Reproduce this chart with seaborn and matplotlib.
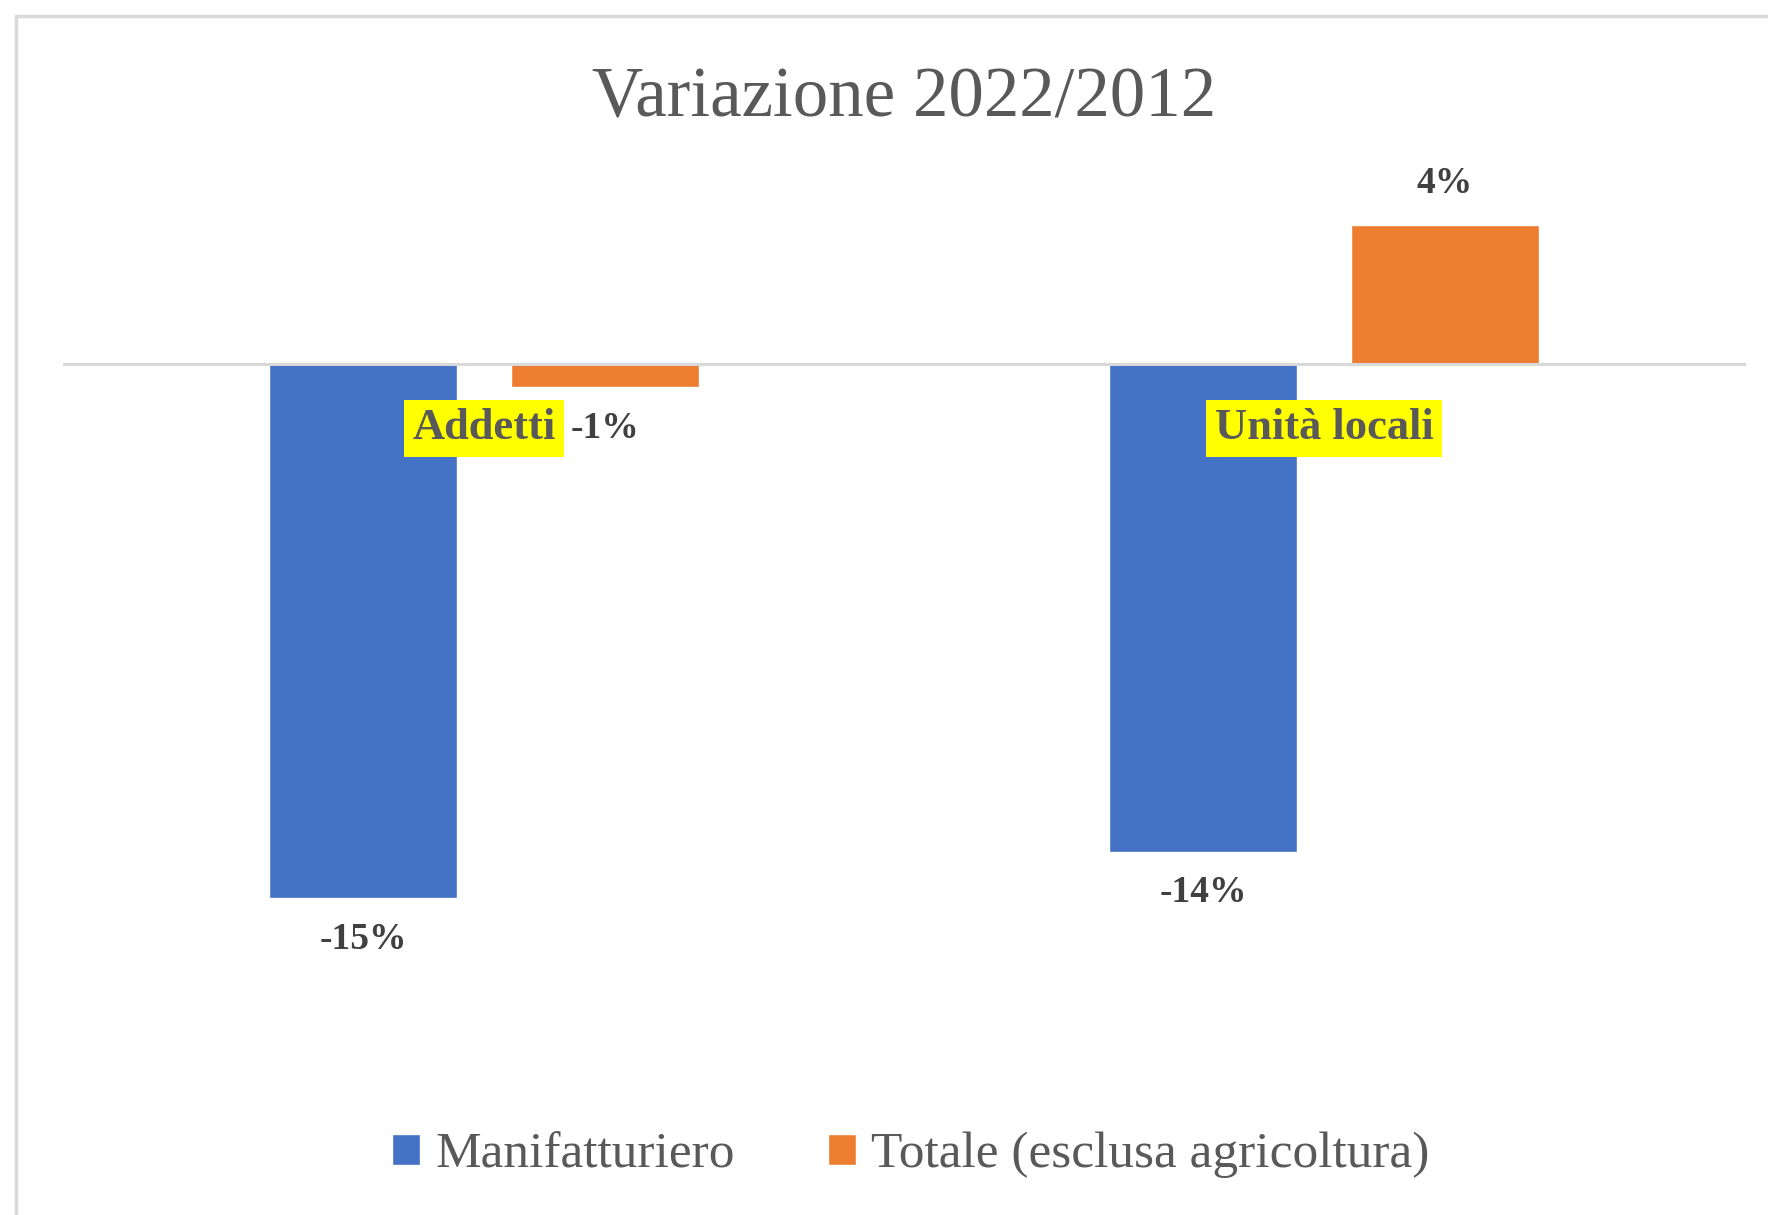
import pandas as pd
import seaborn as sns
import matplotlib.pyplot as plt
from matplotlib.patches import Rectangle

categorie = ['Addetti', 'Unità locali']
serie = ['Manifatturiero', 'Totale (esclusa agricoltura)']
manifatturiero = [-0.150, -0.137]
totale = [-0.0065, 0.039]
colori = ['#4472C4', '#ED7D31']

df = pd.DataFrame({
    'categoria': categorie * 2,
    'serie': [serie[0]] * 2 + [serie[1]] * 2,
    'variazione': manifatturiero + totale,
})

sns.set_style('white')
plt.rcParams['font.family'] = ['Liberation Serif', 'DejaVu Serif']

fig = plt.figure(figsize=(17.68, 12.15), dpi=100)
ax = fig.add_axes([64 / 1768, 1 - 1030 / 1215, 1680 / 1768, 855 / 1215])

sns.barplot(data=df, x='categoria', y='variazione', hue='serie',
            palette=colori, width=0.576, gap=0.22, saturation=1,
            errorbar=None, ax=ax)

ax.set_axisbelow(False)
ax.set_xlim(-0.5, 1.5)
ax.set_ylim(-0.187, 0.053)
ax.set_xlabel('')
ax.set_ylabel('')
ax.set_yticks([])
for s in ['top', 'right', 'left']:
    ax.spines[s].set_visible(False)
ax.spines['bottom'].set_position(('data', 0))
ax.spines['bottom'].set_color('#D9D9D9')
ax.spines['bottom'].set_linewidth(2.2)
ax.tick_params(axis='x', length=0, pad=32, labelsize=32, labelcolor='#595959')
for lbl in ax.get_xticklabels():
    lbl.set_fontweight('bold')
    lbl.set_bbox(dict(facecolor='#FFFF00', edgecolor='none', pad=6))

# etichette dei valori
for cont in ax.containers:
    ax.bar_label(cont, labels=[f'{v:.0%}' for v in cont.datavalues],
                 padding=17, fontsize=27, fontweight='bold', color='#404040')

fig.text(904 / 1768, 1 - 99 / 1215, 'Variazione 2022/2012',
         ha='center', va='center', fontsize=51, color='#595959')

handles, labels = ax.get_legend_handles_labels()
ax.legend_.remove()
fig.legend(handles, labels, loc='center', ncol=2,
           bbox_to_anchor=(911 / 1768, 1 - 1155 / 1215), frameon=False,
           fontsize=37, labelcolor='#595959', handlelength=0.55,
           handleheight=0.55, handletextpad=0.3, columnspacing=1.8)

# bordo dell'area del grafico
fig.patches.append(Rectangle((16 / 1768, -0.1), 1.2, 1.1 - 16 / 1215,
                             transform=fig.transFigure, fill=False,
                             edgecolor='#D9D9D9', linewidth=2.5))

fig.savefig('out.png', dpi=100)
